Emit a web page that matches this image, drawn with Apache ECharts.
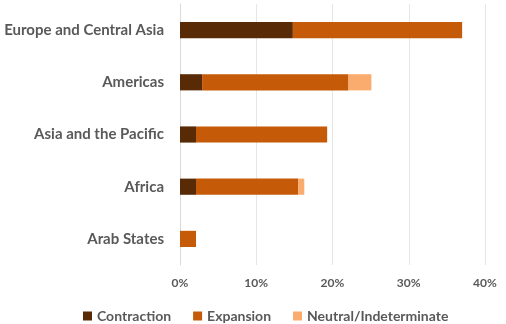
<!DOCTYPE html>
<html>
<head>
<meta charset="utf-8">
<script src="https://cdn.jsdelivr.net/npm/echarts@6/dist/echarts.min.js"></script>
<style>
  html, body { margin: 0; padding: 0; background: #fff; }
  #chart { width: 506px; height: 324px; }
</style>
</head>
<body>
<div id="chart"></div>
<script>
// Regions, listed bottom to top as the category axis draws them
const regions = ["Arab States", "Africa", "Asia and the Pacific", "Americas", "Europe and Central Asia"];
// Share of measures (%) by direction
const contraction = [0, 2.1, 2.1, 2.9, 14.8];
const expansion = [2.1, 13.4, 17.2, 19.2, 22.2];
const neutral = [0, 0.8, 0, 3.0, 0];
const xTicks = [0, 10, 20, 30, 40];

const FONT = "Lato, 'Open Sans', sans-serif";
const TEXT = "#595959";

const chart = echarts.init(document.getElementById("chart"), null, { renderer: "canvas" });

function bar(name, data, color) {
  return {
    name: name,
    type: "bar",
    stack: "total",
    barWidth: "31%",
    data: data,
    itemStyle: { color: color },
    emphasis: { disabled: true }
  };
}

chart.setOption({
  animation: false,
  grid: { left: 180, right: 21, top: 4, bottom: 59, containLabel: false },
  xAxis: {
    type: "value",
    min: xTicks[0],
    max: xTicks[xTicks.length - 1],
    interval: 10,
    axisLine: { show: false },
    axisTick: { show: false },
    splitLine: { lineStyle: { color: "#e6e6e6", width: 1 } },
    axisLabel: {
      formatter: v => v + "%",
      color: TEXT,
      fontFamily: FONT,
      fontWeight: "bold",
      fontSize: 12,
      margin: 12
    }
  },
  yAxis: {
    type: "category",
    data: regions,
    axisLine: { show: true, lineStyle: { color: "#d9d9d9", width: 1 } },
    axisTick: { show: false },
    axisLabel: {
      color: TEXT,
      fontFamily: FONT,
      fontWeight: "bold",
      fontSize: 15,
      margin: 16
    }
  },
  legend: {
    top: 304,
    left: 78,
    itemWidth: 9,
    itemHeight: 9,
    itemGap: 22,
    icon: "rect",
    textStyle: { color: TEXT, fontFamily: FONT, fontWeight: "bold", fontSize: 14 },
    data: ["Contraction", "Expansion", "Neutral/Indeterminate"]
  },
  series: [
    bar("Contraction", contraction, "#582A05"),
    bar("Expansion", expansion, "#C55A09"),
    bar("Neutral/Indeterminate", neutral, "#FAAC6E")
  ]
});
</script>
</body>
</html>
